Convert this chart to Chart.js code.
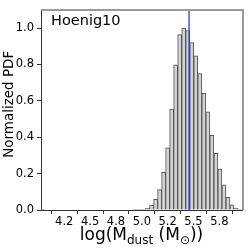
<!DOCTYPE html>
<html>
<head>
<meta charset="utf-8">
<script src="https://cdn.jsdelivr.net/npm/chart.js@4.4.1/dist/chart.umd.min.js"></script>
<style>
  html, body { margin: 0; padding: 0; background: #fff; }
  #wrap { width: 249px; height: 249px; position: relative; }
</style>
</head>
<body>
<div id="wrap"><canvas id="c" width="249" height="249"></canvas></div>
<script>
// ---- data ----
const panelLabel = 'Hoenig10';
const binMin = 4.025;           // lower edge of first bin
const binMax = 5.969;           // upper edge of last bin
const pdfValues = [
  0.001, 0, 0, 0, 0, 0, 0, 0, 0, 0,
  0, 0, 0, 0, 0, 0, 0, 0, 0, 0,
  0, 0, 0, 0.001, 0.002, 0.004, 0.009, 0.027, 0.058, 0.112,
  0.207, 0.342, 0.555, 0.798, 0.964, 1.0, 0.987, 0.921, 0.847, 0.75,
  0.642, 0.54, 0.41, 0.312, 0.225, 0.139, 0.07, 0.029, 0.01, 0.004
];
const markerValue = 5.457;      // blue vertical line
const xTickValues = [4.25, 4.5, 4.75, 5.0, 5.25, 5.5, 5.75];
const xTickLabels = ['4.2', '4.5', '4.8', '5.0', '5.2', '5.5', '5.8'];
const yTickValues = [0, 0.2, 0.4, 0.6, 0.8, 1.0];
const yTickLabels = ['0.0', '0.2', '0.4', '0.6', '0.8', '1.0'];
const yMax = 1.1;

// bin centres derived from the bin edges
const binWidth = (binMax - binMin) / pdfValues.length;
const barPoints = pdfValues.map((v, i) => ({ x: binMin + binWidth * (i + 0.5), y: v }));

Chart.defaults.font.family = 'DejaVu Sans';
Chart.defaults.color = '#000';

const decor = {
  id: 'decor',
  afterDraw(chart) {
    const { ctx, chartArea: a } = chart;
    ctx.save();
    // top & right spines
    ctx.strokeStyle = '#9a9a9a';
    ctx.lineWidth = 2;
    ctx.beginPath();
    ctx.moveTo(a.left, a.top);
    ctx.lineTo(a.right + 1, a.top);
    ctx.lineTo(a.right + 1, a.bottom);
    ctx.stroke();
    // panel label
    ctx.fillStyle = '#000';
    ctx.font = '14.5px "DejaVu Sans"';
    ctx.textBaseline = 'alphabetic';
    ctx.textAlign = 'left';
    ctx.fillText(panelLabel, a.left + 10, 25);
    // y label
    ctx.save();
    ctx.translate(13.3, 104.3);
    ctx.rotate(-Math.PI / 2);
    ctx.font = '13.5px "DejaVu Sans"';
    ctx.textAlign = 'center';
    ctx.fillText('Normalized PDF', 0, 0);
    ctx.restore();
    // x label with subscripts
    const big = '17px "DejaVu Sans"', small = '12px "DejaVu Sans"';
    const parts = [
      ['log(M', big, 0], ['dust', small, 4], [' (M', big, 0], ['\u2299', small, 4], ['))', big, 0]
    ];
    let total = 0;
    parts.forEach(p => { ctx.font = p[1]; total += ctx.measureText(p[0]).width; });
    let x = (a.left + a.right) / 2 - total / 2;
    const base = 240;
    parts.forEach(p => {
      ctx.font = p[1];
      ctx.fillText(p[0], x, base + p[2]);
      x += ctx.measureText(p[0]).width;
    });
    ctx.restore();
  }
};

new Chart(document.getElementById('c'), {
  type: 'bar',
  data: {
    datasets: [
      {
        type: 'bar',
        data: barPoints,
        backgroundColor: '#d3d3d3',
        borderColor: '#555555',
        borderWidth: 1,
        barPercentage: 1.0,
        categoryPercentage: 1.0,
        order: 2
      },
      {
        type: 'line',
        data: [{ x: markerValue, y: 0 }, { x: markerValue, y: yMax }],
        borderColor: 'rgba(50,50,230,0.85)',
        borderWidth: 1.5,
        pointRadius: 0,
        order: 1
      }
    ]
  },
  options: {
    responsive: false,
    animation: false,
    events: [],
    layout: { padding: { top: 7, right: 7, left: 0, bottom: 0 } },
    plugins: { legend: { display: false }, tooltip: { enabled: false } },
    scales: {
      x: {
        type: 'linear',
        min: binMin,
        max: binMax,
        offset: false,
        afterBuildTicks: s => { s.ticks = xTickValues.map(v => ({ value: v })); },
        afterFit: s => { s.height = 39; },
        ticks: {
          autoSkip: false,
          maxRotation: 0,
          padding: 1,
          font: { size: 11.5 },
          callback: (v, i) => xTickLabels[i]
        },
        grid: { display: true, drawOnChartArea: false, drawTicks: true, tickLength: 4, color: '#333' },
        border: { display: true, color: '#333', width: 1 }
      },
      y: {
        type: 'linear',
        min: 0,
        max: yMax,
        afterBuildTicks: s => { s.ticks = yTickValues.map(v => ({ value: v })); },
        afterFit: s => { s.width = 41; },
        ticks: {
          padding: 3,
          font: { size: 11.5 },
          callback: (v, i) => yTickLabels[i]
        },
        grid: { display: true, drawOnChartArea: false, drawTicks: true, tickLength: 4, color: '#333' },
        border: { display: true, color: '#333', width: 1 }
      }
    }
  },
  plugins: [decor]
});
</script>
</body>
</html>
